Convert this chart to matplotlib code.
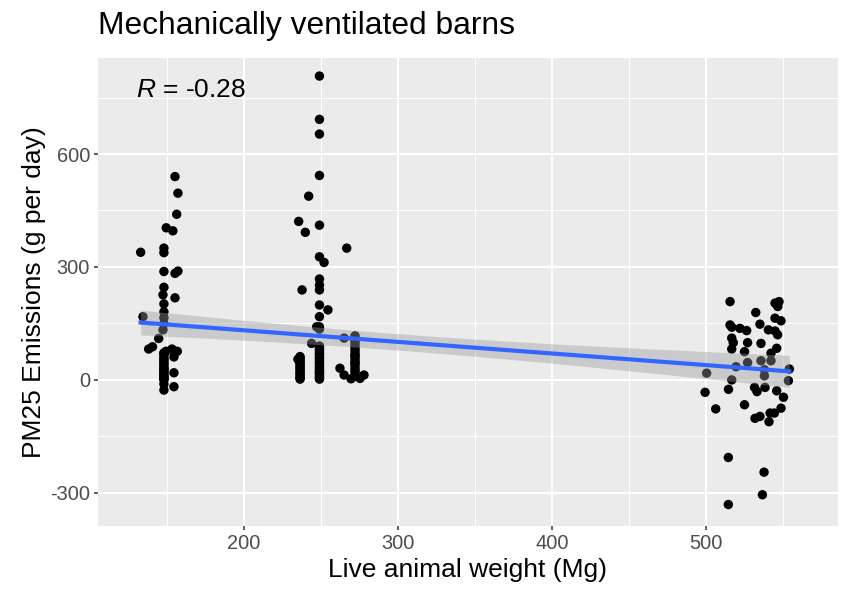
import numpy as np
import matplotlib
matplotlib.use("Agg")
import matplotlib.pyplot as plt
from matplotlib.ticker import MultipleLocator, FixedLocator

plt.rcParams['font.family'] = ['Liberation Sans', 'DejaVu Sans']
plt.rcParams['axes.unicode_minus'] = False
plt.rcParams['mathtext.fontset'] = 'custom'
plt.rcParams['mathtext.it'] = 'Liberation Sans:italic'
plt.rcParams['mathtext.rm'] = 'Liberation Sans'

# ---- data (dense columns hold overlapping points) ----
weight_a = [155.2, 157.1, 156.3, 149.5, 153.8, 132.9, 148, 148, 148, 155.2, 157.1, 148, 147.4, 155.2,
            148, 148, 134.4, 148, 148, 147.4, 144.6, 138.1, 140.6, 149.4, 153.2, 156.7, 148, 154.5,
            148, 148, 154.5, 148, 148, 148, 154.5,
            148, 148, 148, 148, 148, 148, 148, 148, 148, 148, 148, 148, 148, 148, 148]
emis_a = [540, 496, 440, 404, 396, 339, 350, 338, 288, 283, 289, 246, 226, 218,
          202, 181, 168, 165, 149, 133, 110, 82, 88, 76, 82, 76, 66, 61,
          35, 21, 19, 5, -11, -27, -18,
          0, 3, 8, 12, 15, 25, 28, 30, 40, 45, 50, 55, 58, 70, 72]

weight_b = [249, 249, 249, 249, 242, 235.5, 249, 239.8, 266.7, 249, 252, 249, 249, 237.7, 249,
            249, 254.5, 249, 247.2, 249, 249, 243.9, 249, 249, 249, 249, 249, 249, 249,
            236.4, 236, 236.4, 236.4, 236.4, 236.4, 235, 265, 272.1, 272.1, 272.1, 272.1,
            272.1, 272.1, 262.3, 265, 269.5, 275.3, 277.9, 272.1,
            249, 249, 249, 249, 249, 249, 249, 249, 249, 249, 249, 249, 249, 249, 249,
            236.4, 236.4, 236.4, 236.4, 236.4, 236.4, 236.4, 236.4, 236.4, 236.4,
            272.1, 272.1, 272.1, 272.1, 272.1, 272.1, 272.1, 272.1, 272.1, 272.1]
emis_b = [807, 692, 653, 543, 488, 421, 411, 392, 350, 327, 312, 268, 252, 239, 239,
          199, 186, 168, 141, 141, 135, 97, 80, 66, 53, 40, 27, 13, 2,
          62, 50, 40, 27, 14, 2, 55, 111, 117, 100, 85, 70,
          55, 40, 31, 13, 3, 4, 13, 10,
          5, 8, 18, 22, 30, 35, 45, 48, 58, 60, 70, 75, 85, 90, 20,
          5, 8, 18, 22, 32, 35, 45, 48, 55, 58,
          20, 25, 32, 45, 48, 62, 65, 78, 92, 105]

weight_c = [515.6, 544.8, 547.4, 546.6, 532.3, 544.8, 548.7, 535, 515.6, 516.7, 522, 526.4, 540.5,
            544.8, 546.5, 516.7, 517.7, 527, 535.7, 516.7, 525, 545.9, 542.2, 527, 535.7, 542.2,
            519.5, 537.9, 554.1, 500.4, 537.9, 516.7, 553.5, 499.4, 514.6, 531.5, 533.1, 538.3,
            545.9, 550.3, 525, 506.3, 548.7, 541.6, 544.4, 531.8, 535, 540.9, 514.5, 537.7,
            536.6, 514.5]
emis_c = [208, 204, 208, 195, 179, 164, 157, 148, 146, 140, 137, 131, 133,
          130, 120, 111, 99, 99, 97, 82, 75, 84, 71, 46, 51, 51,
          35, 27, 29, 18, 11, 0, -2, -33, -25, -20, -31, -20,
          -29, -46, -66, -77, -75, -88, -88, -102, -97, -111, -206, -245,
          -305, -331]

x_ticks = [200, 300, 400, 500]
y_ticks = [-300, 0, 300, 600]
title = "Mechanically ventilated barns"
x_label = "Live animal weight (Mg)"
y_label = "PM25 Emissions (g per day)"
r_label = "-0.28"

x = np.array(weight_a + weight_b + weight_c, dtype=float)
y = np.array(emis_a + emis_b + emis_c, dtype=float)

# ---- figure ----
W, H = 845, 592
fig = plt.figure(figsize=(W / 100, H / 100), dpi=100)
pl, pr, pt, pb = 98, 838, 58, 526
ax = fig.add_axes([pl / W, (H - pb) / H, (pr - pl) / W, (pb - pt) / H])
ax.set_facecolor('#EBEBEB')
for s in ax.spines.values():
    s.set_visible(False)

ax.set_xlim(105.2, 585.7)
ax.set_ylim(-388, 855)

ax.xaxis.set_major_locator(FixedLocator(x_ticks))
ax.yaxis.set_major_locator(FixedLocator(y_ticks))
ax.xaxis.set_minor_locator(MultipleLocator(100, offset=50))
ax.yaxis.set_minor_locator(MultipleLocator(300, offset=150))
ax.grid(which='major', color='white', linewidth=1.5)
ax.grid(which='minor', color='white', linewidth=0.75)
ax.set_axisbelow(True)
ax.tick_params(which='major', length=3.2, width=1.1, color='#333333',
               labelcolor='#4D4D4D', labelsize=14.4, pad=2.5)
ax.tick_params(which='minor', length=0)

# regression with 95% CI
coef = np.polyfit(x, y, 1)
n = len(x)
xs = np.linspace(x.min(), x.max(), 80)
ys = np.polyval(coef, xs)
resid = y - np.polyval(coef, x)
s_err = np.sqrt(np.sum(resid ** 2) / (n - 2))
tval = 1.975
se = s_err * np.sqrt(1 / n + (xs - x.mean()) ** 2 / np.sum((x - x.mean()) ** 2))

ax.scatter(x, y, s=46, color='black', edgecolors='none', zorder=2)
ax.fill_between(xs, ys - tval * se, ys + tval * se, color='#999999', alpha=0.4,
                linewidth=0, zorder=3)
ax.plot(xs, ys, color='#3366FF', linewidth=3.0, zorder=4)

ax.text(0.052, 0.931, r"$\it{R}$" + " = " + r_label, transform=ax.transAxes,
        fontsize=19, ha='left', va='center', color='black')

ax.set_xlabel(x_label, fontsize=19, color='black', labelpad=4)
ax.set_ylabel(y_label, fontsize=19, color='black', labelpad=3)
fig.text(pl / W, 1 - 26 / H, title, fontsize=22.9, ha='left', va='center', color='black')

fig.savefig("out.png", dpi=100)
